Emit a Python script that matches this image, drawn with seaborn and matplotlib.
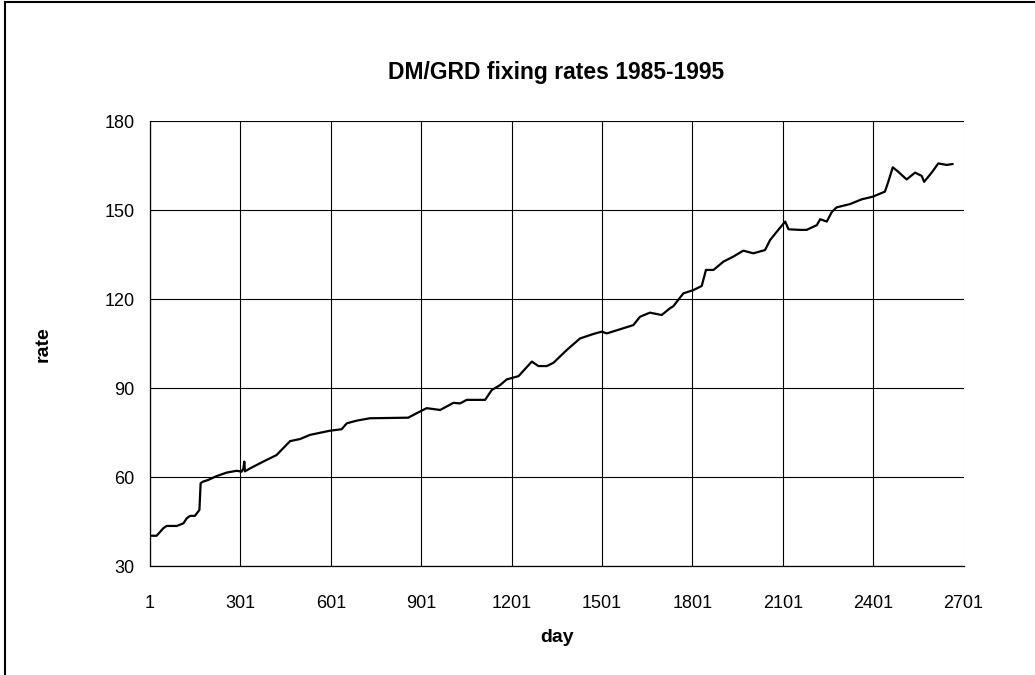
import matplotlib
matplotlib.use("Agg")
import matplotlib.pyplot as plt
import seaborn as sns
import pandas as pd
from matplotlib.patches import Rectangle

# ---- data ----
days = [1, 23, 45, 56, 90, 112, 123, 134, 150, 165, 169, 176, 194, 222, 256, 289,
        305, 311, 314, 316, 333, 377, 421, 443, 466, 499, 532, 598, 637, 654, 687,
        731, 858, 886, 919, 964, 1008, 1030, 1052, 1113, 1135, 1163, 1185, 1224,
        1268, 1290, 1318, 1340, 1384, 1428, 1472, 1500, 1517, 1561, 1605, 1627,
        1660, 1699, 1727, 1738, 1771, 1804, 1832, 1846, 1871, 1904, 1937, 1970,
        2003, 2042, 2059, 2086, 2109, 2120, 2158, 2180, 2214, 2225, 2247, 2264,
        2280, 2324, 2363, 2400, 2440, 2451, 2466, 2484, 2512, 2540, 2562, 2570,
        2595, 2617, 2645, 2665]
rates = [40.3, 40.3, 42.8, 43.6, 43.6, 44.5, 46.2, 47.0, 47.0, 49.0, 58.0, 58.5,
         59.1, 60.4, 61.6, 62.2, 61.9, 63.0, 65.3, 62.0, 63.0, 65.3, 67.5, 69.8,
         72.2, 72.9, 74.3, 75.7, 76.2, 78.2, 79.1, 79.9, 80.1, 81.6, 83.3, 82.7,
         85.1, 84.9, 86.1, 86.1, 89.4, 91.1, 93.0, 94.1, 99.0, 97.5, 97.5, 98.6,
         102.9, 106.8, 108.3, 109.1, 108.5, 109.9, 111.3, 114.1, 115.5, 114.7,
         117.0, 117.7, 122.0, 123.1, 124.5, 129.9, 129.9, 132.7, 134.4, 136.4,
         135.5, 136.6, 140.0, 143.4, 146.2, 143.6, 143.4, 143.4, 145.0, 147.0,
         146.2, 149.5, 151.0, 152.1, 153.7, 154.6, 156.3, 159.6, 164.5, 163.0,
         160.4, 162.7, 161.6, 159.6, 162.7, 165.8, 165.3, 165.6]
x_ticks = [1, 301, 601, 901, 1201, 1501, 1801, 2101, 2401, 2701]
y_ticks = [30, 60, 90, 120, 150, 180]
title = "DM/GRD fixing rates 1985-1995"

df = pd.DataFrame({"day": days, "rate": rates})

sns.set_style("white")
plt.rcParams["font.family"] = ["Liberation Sans", "DejaVu Sans"]
plt.rcParams["text.color"] = "black"
plt.rcParams["axes.labelcolor"] = "black"
plt.rcParams["xtick.color"] = "black"
plt.rcParams["ytick.color"] = "black"

fig = plt.figure(figsize=(10.35, 6.75), dpi=100)
ax = fig.add_axes([150 / 1035, 1 - 566.3 / 675, 813.6 / 1035, 445 / 675])

sns.lineplot(data=df, x="day", y="rate", ax=ax, color="black", linewidth=1.6,
             estimator=None, sort=False)

ax.set_xlim(1, 2701)
ax.set_ylim(30, 180)
ax.set_xticks(x_ticks)
ax.set_yticks(y_ticks)
ax.grid(True, color="black", linewidth=0.8)
ax.xaxis.get_gridlines()[-1].set_color("#d8d8d8")
ax.set_axisbelow(True)
for s in ["top", "right"]:
    ax.spines[s].set_visible(False)
for s in ["left", "bottom"]:
    ax.spines[s].set_color("black")
    ax.spines[s].set_linewidth(0.9)
ax.tick_params(axis="both", direction="out", length=4, width=0.8, color="black",
               labelsize=13, labelcolor="black")
ax.tick_params(axis="x", pad=17)
ax.tick_params(axis="y", pad=7)

ax.set_xlabel("day", fontsize=14, fontweight="bold", labelpad=12, color="black")
ax.set_ylabel("rate", fontsize=14, fontweight="bold", labelpad=38, color="black")
fig.text(556.5 / 1035, 1 - 72 / 675, title, ha="center", va="center",
         fontsize=16.5, fontweight="bold", color="black")

fig.patches.append(Rectangle((5 / 1035, -0.1), 1.2, 1.1 - 2 / 675,
                             transform=fig.transFigure, fill=False,
                             edgecolor="black", linewidth=1.5, clip_on=False))

fig.savefig("out.png", dpi=100)
